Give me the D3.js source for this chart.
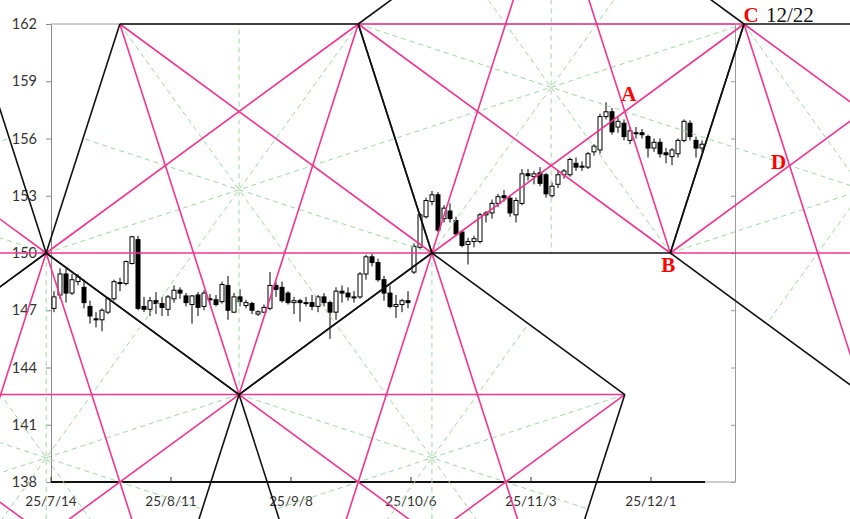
<!DOCTYPE html>
<html>
<head>
<meta charset="utf-8">
<script src="https://cdn.jsdelivr.net/npm/d3@7"></script>
<style>
  body { margin: 0; background: #fff; }
  svg { display: block; }
  .lbl { font-family: Lato, "Liberation Sans", sans-serif; font-size: 13.5px; fill: #333; }
</style>
</head>
<body>
<svg id="chart" width="850" height="519"></svg>
<script>
// ---- data ----
// one candle per trading day, index 0 = 25/7/14
const opens  = [147.1,147.8,148.9,147.9,148.5,148.2,147.2,146.55,146.5,146.9,147.6,148.45,148.4,149.45,150.7,147.2,147.05,147.5,147.35,147.05,147.6,148.05,147.75,147.3,147.8,147.2,147.6,147.55,147.45,148.3,146.9,147.7,147.25,147.35,146.8,146.9,147.1,148.3,148.2,147.9,147.4,147.5,147.4,147.4,147.2,147.7,147.4,146.9,148.0,147.9,147.7,147.7,148.9,149.8,149.5,148.6,147.9,147.2,147.3,147.5,
                149.0,150.3,151.9,152.7,153.05,151.8,152.2,151.7,151.1,150.45,150.6,150.6,152.0,152.1,152.6,153.0,152.87,152.0,152.6,154.15,154.0,154.2,154.1,153.0,153.6,154.1,154.1,154.7,154.55,154.5,155.3,155.4,157.15,157.4,156.6,156.8,155.9,156.3,156.3,156.1,155.5,155.8,155.25,155.05,155.2,155.9,156.8,155.9,155.5]
const highs  = [148.0,149.2,149.2,148.9,148.9,148.6,147.5,146.9,147.1,147.7,148.6,148.7,149.6,150.9,150.9,147.7,147.7,147.95,147.7,147.8,148.3,148.2,147.9,147.8,147.95,148.05,147.85,147.8,148.5,148.8,147.9,148.1,147.55,147.45,147.0,147.3,149.0,148.5,148.5,148.0,147.7,147.6,147.7,147.8,147.8,147.9,147.5,148.2,148.3,148.2,148.0,149.0,149.9,149.95,149.7,148.8,148.3,147.8,147.6,148.0,
                150.5,152.1,152.9,153.25,153.2,152.5,152.6,151.9,151.2,150.8,150.9,152.1,152.2,152.8,153.1,153.3,153.0,152.9,154.4,154.4,154.3,154.5,154.2,153.7,154.3,154.4,155.0,155.0,154.8,155.3,155.7,157.3,157.9,157.6,157.1,157.0,156.6,156.6,156.5,156.2,156.0,156.0,155.5,155.5,156.0,157.0,156.95,156.1,155.9]
const lows   = [146.9,147.6,147.4,147.8,148.3,147.1,146.3,146.1,145.9,146.8,147.5,148.0,148.3,149.4,147.0,146.9,146.7,146.8,146.7,146.7,147.4,147.6,147.2,146.3,146.7,147.0,147.3,147.2,147.35,146.5,146.85,147.2,147.1,146.8,146.7,146.85,147.0,147.7,147.4,147.3,146.8,146.4,147.2,147.0,146.9,147.2,145.5,146.5,147.4,147.5,147.4,147.6,148.6,149.3,148.5,147.5,147.1,146.6,146.9,147.1,
                148.9,150.2,151.8,152.5,151.1,151.6,151.6,150.9,150.3,149.4,150.3,150.5,151.6,151.8,152.4,152.7,151.9,151.6,152.5,153.8,153.6,153.5,152.9,152.9,153.4,153.9,154.0,154.3,154.3,154.4,155.1,155.2,157.0,156.2,156.3,155.9,155.7,156.0,156.0,155.0,155.3,155.0,154.7,154.6,155.0,155.8,155.9,155.0,155.3]
const closes = [147.7,148.9,147.9,148.6,148.75,147.4,146.7,146.5,147.0,147.6,148.5,148.4,149.55,150.85,147.1,147.05,147.5,147.35,147.15,147.7,148.05,147.9,147.4,147.75,147.15,147.9,147.55,147.3,148.35,147.0,147.7,147.45,147.4,147.0,146.92,147.15,148.3,148.1,147.5,147.4,147.5,147.4,147.4,147.2,147.7,147.4,146.9,148.0,147.9,147.7,147.7,148.9,149.8,149.5,148.6,147.9,147.2,147.3,147.5,147.4,
                150.35,152.0,152.75,153.05,151.2,152.35,151.8,151.0,150.4,150.6,150.75,152.0,152.1,152.6,152.95,152.9,152.1,152.75,154.15,154.05,154.15,153.65,153.1,153.5,154.1,154.3,154.9,154.5,154.5,155.2,155.6,157.15,157.4,156.35,156.9,156.1,156.4,156.25,156.2,155.5,155.8,155.2,155.15,155.4,155.9,156.9,156.1,155.5,155.7]

const yTicks = [138, 141, 144, 147, 150, 153, 156, 159, 162]
const xTickIdx = [0, 20, 40, 60, 80, 100]
const xTickLabels = ['25/7/14', '25/8/11', '25/9/8', '25/10/6', '25/11/3', '25/12/1']

// pentagon chain: anchored on C (12/22 = day 115, 162), mid line 150
const anchorC = {d: 115, p: 162}
const midPrice = 150
const radiusDays = 33.8

// ---- layout ----
const svg = d3.select('#chart')
const W = 850, H = 519
const n = closes.length

const x = d3.scaleLinear().domain([-0.5, n - 0.5]).range([51, 51 + 6 * n])
const y = d3.scaleLinear().domain([138, 162]).range([482, 24])
const plotRight = 735

const PINK = '#f2358e'
const GREEN = '#a2d6a2'

// ---- pentagon geometry (in data units) ----
const rad = deg => deg * Math.PI / 180
const rP = (anchorC.p - midPrice) / (Math.cos(rad(36)) + Math.sin(rad(18)))
const rD = radiusDays
const off = a => ({d: rD * Math.sin(rad(a)), p: rP * Math.cos(rad(a))})
const vert = (c, a) => ({d: c.d + off(a).d, p: c.p + off(a).p})
const centreFrom = (v, a) => ({d: v.d - off(a).d, p: v.p - off(a).p})

const DOWN = [-36, 36, 108, 180, 252]
const UP = [0, 72, 144, 216, 288]

const c5 = centreFrom(anchorC, -36)
const c4 = centreFrom(anchorC, 72)
const T2 = vert(c4, -72)
const M = vert(c4, 216)
const B = vert(c4, 144)
const apex4 = vert(c4, 0)
const c1 = centreFrom(T2, 36)
const P1 = vert(c1, 252)
const c2 = centreFrom(M, 0)
const c3 = centreFrom(P1, 0)
const c0 = centreFrom(P1, 108)

const pentagons = [
  {c: c0, angles: DOWN}, {c: c1, angles: DOWN}, {c: c2, angles: UP},
  {c: c3, angles: UP}, {c: c4, angles: UP}, {c: c5, angles: DOWN}
]

// sides black, star diagonals pink, symmetry axes green dashed
const sides = [], diagonals = [], axesLines = []
pentagons.forEach(pg => {
  const v = pg.angles.map(a => vert(pg.c, a))
  for (let i = 0; i < 5; i++) {
    sides.push([v[i], v[(i + 1) % 5]])
    diagonals.push([v[i], v[(i + 2) % 5]])
    const a = v[(i + 2) % 5], b = v[(i + 3) % 5]
    axesLines.push([v[i], {d: (a.d + b.d) / 2, p: (a.p + b.p) / 2}])
  }
})

const px = pt => [x(pt.d), y(pt.p)]

// ---- frame ----
svg.append('rect').attr('width', W).attr('height', H).attr('fill', '#fff')

svg.append('line')
  .attr('x1', x(-0.5)).attr('x2', plotRight).attr('y1', y(162)).attr('y2', y(162))
  .attr('stroke', '#9a9a9a').attr('stroke-width', 1)
svg.append('line')
  .attr('x1', x(-0.5)).attr('x2', plotRight).attr('y1', y(138)).attr('y2', y(138))
  .attr('stroke', '#9a9a9a').attr('stroke-width', 1)

const yAxis = svg.append('g')
  .attr('transform', `translate(${x(-0.5)},0)`)
  .call(d3.axisLeft(y).tickValues(yTicks).tickSize(5).tickSizeOuter(0))
yAxis.select('.domain').attr('stroke', '#8a8a8a')
yAxis.selectAll('.tick line').attr('stroke', '#8a8a8a')
yAxis.selectAll('.tick text')
  .attr('x', -14)
  .attr('class', 'lbl')
  .style('font-size', '14.5px')
  .attr('font-family', null).attr('font-size', null)

const yAxisR = svg.append('g')
  .attr('transform', `translate(${plotRight},0)`)
  .call(d3.axisLeft(y).tickValues(yTicks).tickSize(4).tickSizeOuter(0).tickFormat(''))
yAxisR.select('.domain').attr('stroke', '#9a9a9a')
yAxisR.selectAll('.tick line').attr('stroke', '#9a9a9a')

// x axis
svg.append('line')
  .attr('x1', x(-0.5)).attr('x2', x(n - 0.5)).attr('y1', y(138)).attr('y2', y(138))
  .attr('stroke', '#111').attr('stroke-width', 2)
const xt = svg.append('g').selectAll('g').data(xTickIdx).join('g')
  .attr('transform', d => `translate(${x(d - 0.5)},${y(138)})`)
xt.append('line').attr('y1', 0).attr('y2', -5).attr('stroke', '#333')
xt.append('text')
  .attr('class', 'lbl')
  .attr('y', 24)
  .attr('text-anchor', 'middle')
  .text((d, i) => xTickLabels[i])

// ---- candles ----
const candles = svg.append('g')
const idx = d3.range(n)
candles.selectAll('line').data(idx).join('line')
  .attr('x1', i => x(i)).attr('x2', i => x(i))
  .attr('y1', i => y(highs[i])).attr('y2', i => y(lows[i]))
  .attr('stroke', '#000').attr('stroke-width', 1)
candles.selectAll('rect').data(idx).join('rect')
  .attr('x', i => x(i) - 2)
  .attr('width', 4)
  .attr('y', i => y(Math.max(opens[i], closes[i])))
  .attr('height', i => Math.max(1, Math.abs(y(opens[i]) - y(closes[i]))))
  .attr('fill', i => closes[i] >= opens[i] ? '#fff' : '#000')
  .attr('stroke', '#000').attr('stroke-width', 1)

// ---- pentagon lines ----
const drawSegs = (segs, colour, width, dash) => {
  svg.append('g').selectAll('line').data(segs).join('line')
    .attr('x1', s => px(s[0])[0]).attr('y1', s => px(s[0])[1])
    .attr('x2', s => px(s[1])[0]).attr('y2', s => px(s[1])[1])
    .attr('stroke', colour).attr('stroke-width', width)
    .attr('stroke-dasharray', dash)
}
drawSegs(axesLines, GREEN, 1, '5,4')
drawSegs(diagonals, PINK, 1.6, null)
drawSegs(sides, '#111', 1.6, null)

// ---- labels ----
const cross = (a1, a2, b1, b2) => {
  const [x1, y1] = px(a1), [x2, y2] = px(a2), [x3, y3] = px(b1), [x4, y4] = px(b2)
  const den = (x1 - x2) * (y3 - y4) - (y1 - y2) * (x3 - x4)
  const t = ((x1 - x3) * (y3 - y4) - (y1 - y3) * (x3 - x4)) / den
  return [x1 + t * (x2 - x1), y1 + t * (y2 - y1)]
}
const ptA = cross(M, anchorC, apex4, B)
const ptD = cross(anchorC, vert(c5, 180), B, vert(c5, 36))
const ptB = px(B), ptC = px(anchorC)

const labels = [
  {t: 'A', at: ptA, dx: 4, dy: -10},
  {t: 'B', at: ptB, dx: -2, dy: 19},
  {t: 'C', at: ptC, dx: 7, dy: -2},
  {t: 'D', at: ptD, dx: -11, dy: 3}
]
svg.append('g').selectAll('text').data(labels).join('text')
  .attr('x', d => d.at[0] + d.dx).attr('y', d => d.at[1] + d.dy)
  .attr('text-anchor', 'middle')
  .style('font-family', '"Liberation Serif", "DejaVu Serif", serif')
  .style('font-weight', 'bold')
  .style('font-size', '21px')
  .attr('fill', '#f00')
  .text(d => d.t)
svg.append('text')
  .attr('x', ptC[0] + 22).attr('y', ptC[1] - 2)
  .style('font-family', '"Liberation Serif", "DejaVu Serif", serif')
  .style('font-size', '21px')
  .attr('fill', '#111')
  .text('12/22')
</script>
</body>
</html>
